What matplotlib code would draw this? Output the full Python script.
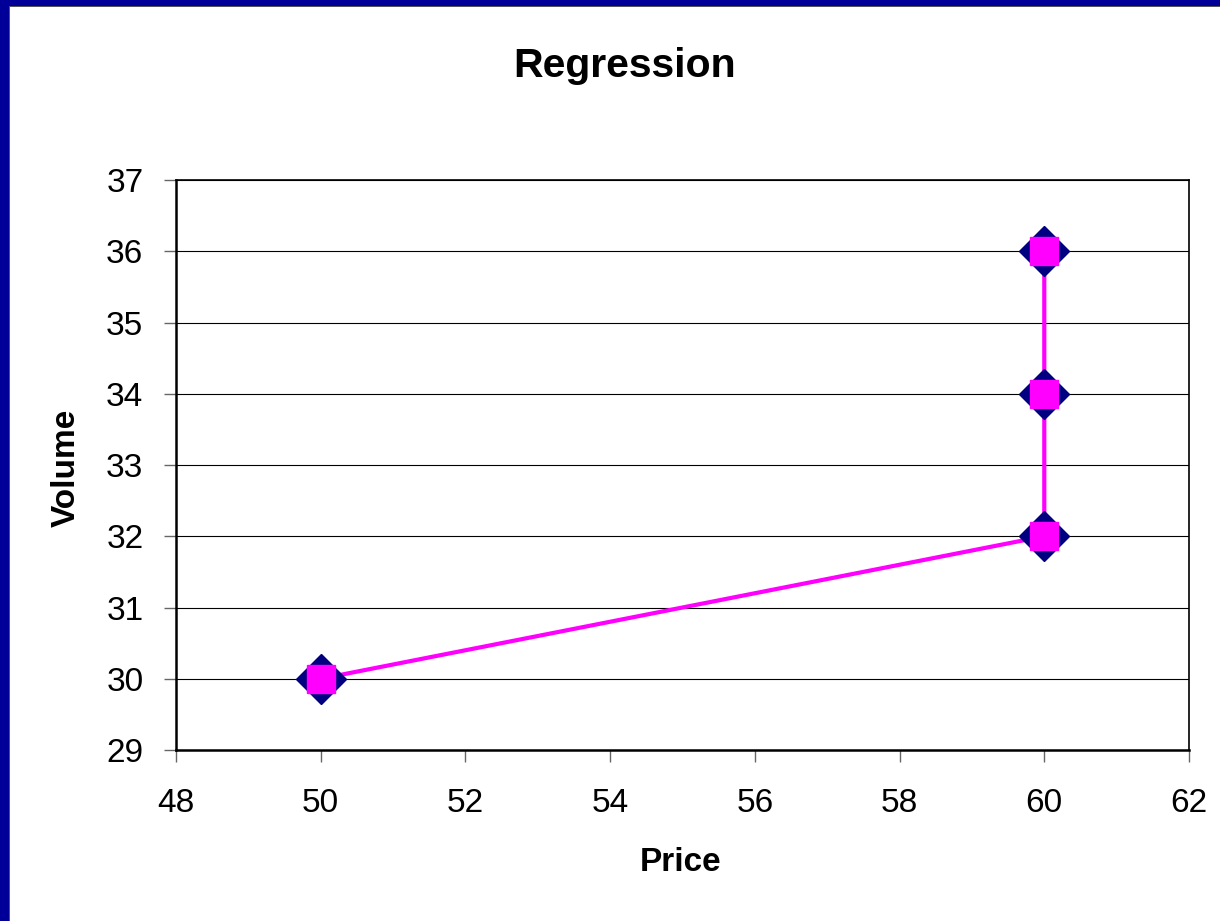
import matplotlib
matplotlib.use("Agg")
import matplotlib.pyplot as plt
from matplotlib.patches import Rectangle

plt.rcParams['font.family'] = ['Liberation Sans', 'DejaVu Sans']

# data
price = [50, 60, 60, 60]
volume = [30, 32, 34, 36]
fit_price = [50, 60, 60, 60]
fit_volume = [30, 32, 34, 36]
xticks = [48, 50, 52, 54, 56, 58, 60, 62]
yticks = [29, 30, 31, 32, 33, 34, 35, 36, 37]

W, H = 1220, 921
fig = plt.figure(figsize=(W / 100, H / 100), dpi=100)
fig.patch.set_facecolor('white')

# blue frame (top and left)
fig.patches.append(Rectangle((0, 1 - 6 / H), 1, 6 / H, transform=fig.transFigure,
                             facecolor='#000099', edgecolor='none', zorder=0))
fig.patches.append(Rectangle((0, 0), 9 / W, 1, transform=fig.transFigure,
                             facecolor='#000099', edgecolor='none', zorder=0))
fig.patches.append(Rectangle((9 / W, 0), 1.2 / W, 1 - 6 / H, transform=fig.transFigure,
                             facecolor='#555555', edgecolor='none', zorder=0))
fig.patches.append(Rectangle((9 / W, 1 - 7.2 / H), 1, 1.2 / H, transform=fig.transFigure,
                             facecolor='#555555', edgecolor='none', zorder=0))

ax = fig.add_axes([176 / W, 1 - 750 / H, (1189 - 176) / W, (750 - 180) / H])

ax.plot(fit_price, fit_volume, color='#FF00FF', lw=3, zorder=3)
ax.plot(price, volume, 'D', color='#000080', ms=25, mec='#000080', zorder=4, clip_on=False)
ax.plot(fit_price, fit_volume, 's', color='#FF00FF', ms=20, mec='#FF00FF', zorder=5, clip_on=False)

ax.set_xlim(48, 62)
ax.set_ylim(29, 37)
ax.set_xticks(xticks)
ax.set_yticks(yticks)
ax.yaxis.grid(True, color='black', lw=0.8)
ax.set_axisbelow(True)

for s in ['left', 'bottom']:
    ax.spines[s].set_linewidth(1.8)
for s in ['top', 'right']:
    ax.spines[s].set_linewidth(1.2)

ax.tick_params(axis='x', direction='out', length=8.5, width=1, color='#666666',
               labelsize=24, pad=19)
ax.tick_params(axis='y', direction='out', length=8.5, width=1, color='#666666',
               labelsize=24, pad=15)

fig.text(625 / W, 1 - 77 / H, 'Regression', fontsize=29.5, fontweight='bold',
         ha='center', va='baseline')
fig.text(681 / W, 1 - 862 / H, 'Price', fontsize=24, fontweight='bold',
         ha='center', va='center')
fig.text(66.5 / W, 1 - 468 / H, 'Volume', fontsize=24, fontweight='bold',
         ha='center', va='center', rotation=90)

fig.savefig('out.png', dpi=100)
